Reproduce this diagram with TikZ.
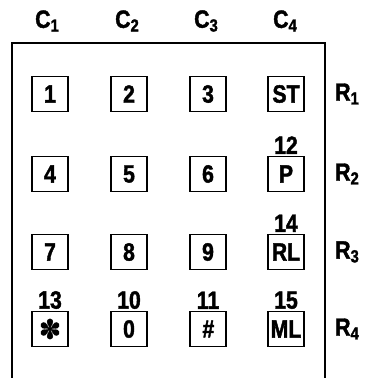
\documentclass[tikz,border=0pt]{standalone}
\usepackage{fontspec}
\setmainfont{Liberation Sans}[FakeStretch=0.85, BoldFeatures={FakeBold=1.6},
  BoldItalicFeatures={FakeBold=1.6}]
\newfontfamily\symfont{DejaVu Sans}[FakeBold=1.2]
\usetikzlibrary{positioning}

\tikzset{
  keybox/.style = {draw, line width=1.8pt, minimum width=36pt, minimum height=35pt,
                   inner sep=0pt, font=\fontsize{25}{27}\selectfont\bfseries},
  codetext/.style = {inner sep=0pt, font=\fontsize{25}{27}\selectfont\bfseries},
}

\begin{document}
\begin{tikzpicture}[x=1pt, y=-1pt]
                \useasboundingbox (0,0) rectangle (367,378);
                % frame, open at the bottom
                \draw [line width=2.2pt] (12,378) |- (325,43) -- (325,378);
                % column and row names
                \foreach \x/\n in {48/1, 128/2, 207/3, 286/4}
                  \node [codetext] (c\n) at (\x,21) {C$_{\mathbf{\n}}$};
                \foreach \y/\n in {94/1, 174/2, 252/3, 329/4}
                  \node [codetext] (r\n) at (348,\y) {R$_{\mathbf{\n}}$};
                % keys
                \foreach \x/\y/\k/\t in {50/94/1/1, 129/94/2/2, 208/94/3/3, 286/94/st/ST,
                                       50/174/4/4, 129/174/5/5, 208/174/6/6, 286/174/p/P,
                                       50/252/7/7, 129/252/8/8, 208/252/9/9, 286/252/rl/RL,
                                       129/329/0/0, 286/329/ml/ML}
                  \node [keybox] (k\k) at (\x,\y) {\t};
                \node [keybox] (kstar) at (50,329) {\symfont\fontsize{27}{29}\selectfont ✽};
                \node [keybox] (khash) at (208,329) {\itshape\#};
                % codes above keys
                \node [codetext, above=1.5pt of kp] (n12) {12};
                \node [codetext, above=1.5pt of krl] (n14) {14};
                \node [codetext, above=1.5pt of kstar] (n13) {13};
                \node [codetext, above=1.5pt of k0] (n10) {10};
                \node [codetext, above=1.5pt of khash] (n11) {11};
                \node [codetext, above=1.5pt of kml] (n15) {15};
            \end{tikzpicture}
\end{document}
